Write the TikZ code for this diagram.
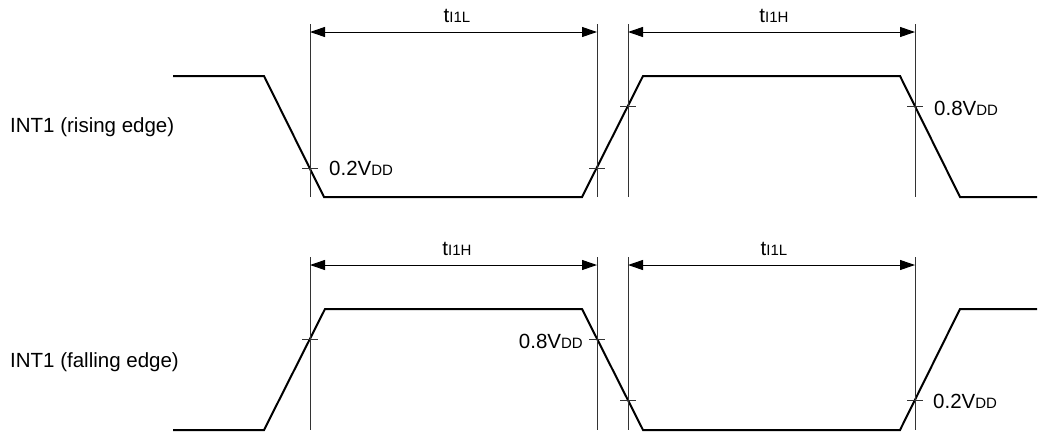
\documentclass[tikz,border=0pt]{standalone}
\usepackage{fontspec}
\setmainfont{Liberation Sans}
\usetikzlibrary{positioning,arrows.meta}

\newcommand{\lowtxt}[1]{{\fontsize{15}{15}\selectfont #1}}

\begin{document}
\begin{tikzpicture}[
    x=1pt, y=-1pt,
    every node/.style={font=\fontsize{20.5}{24}\selectfont, inner sep=0pt},
    wave/.style={line width=2pt, line join=miter},
    guide/.style={line width=1pt, draw=black!80},
    tipend/.tip={Triangle[length=15pt,width=10pt]},
    dim/.style={tipend-tipend, line width=1pt, draw=black},
    lvlmark/.style={line width=1pt, draw=black!80}
]
\useasboundingbox (0,0) rectangle (1040,434);

% signal names
\node[anchor=base west] (sigR) at (10,132) {INT1 (rising edge)};
\node[anchor=base west] (sigF) at (10,367) {INT1 (falling edge)};

% rising edge waveform
\draw[wave] (173,76) -- (264,76) -- (324,197) -- (582,197) -- (643,76) -- (900,76) -- (960,197) -- (1037,197);
\foreach \x in {310,597,628,915}
    \draw[guide] (\x,24) -- (\x,197);

\coordinate (rA1) at (310,32);
\coordinate (rA2) at (597,32);
\coordinate (rB1) at (628,32);
\coordinate (rB2) at (915,32);
\draw[dim] (rA1) -- (rA2);
\draw[dim] (rB1) -- (rB2);
\node[anchor=base] (rLowT) at (457,22) {t\lowtxt{I1L}};
\node[anchor=base] (rHighT) at (774,22) {t\lowtxt{I1H}};

\coordinate (rM1) at (310,168);
\coordinate (rM2) at (597,168);
\coordinate (rM3) at (628,106);
\coordinate (rM4) at (915,106);
\foreach \m in {rM1,rM2,rM3,rM4}
    \draw[lvlmark] ([xshift=-8pt]\m) -- ([xshift=8pt]\m);
\node[right=19pt of rM1] (rLow) {0.2V\lowtxt{DD}};
\node[right=19pt of rM4, yshift=-2pt] (rHigh) {0.8V\lowtxt{DD}};

% falling edge waveform
\draw[wave] (173,430) -- (264,430) -- (325,309) -- (582,309) -- (643,430) -- (900,430) -- (960,309) -- (1037,309);
\foreach \x in {310,597,628,915}
    \draw[guide] (\x,257) -- (\x,430);

\coordinate (fA1) at (310,265);
\coordinate (fA2) at (597,265);
\coordinate (fB1) at (628,265);
\coordinate (fB2) at (915,265);
\draw[dim] (fA1) -- (fA2);
\draw[dim] (fB1) -- (fB2);
\node[anchor=base] (fHighT) at (457,255) {t\lowtxt{I1H}};
\node[anchor=base] (fLowT) at (774,255) {t\lowtxt{I1L}};

\coordinate (fM1) at (310,339);
\coordinate (fM2) at (597,339);
\coordinate (fM3) at (628,400);
\coordinate (fM4) at (915,400);
\foreach \m in {fM1,fM2,fM3,fM4}
    \draw[lvlmark] ([xshift=-8pt]\m) -- ([xshift=8pt]\m);
\node[left=14pt of fM2, yshift=-2pt] (fHigh) {0.8V\lowtxt{DD}};
\node[right=18pt of fM4, yshift=-1pt] (fLow) {0.2V\lowtxt{DD}};
\end{tikzpicture}
\end{document}
